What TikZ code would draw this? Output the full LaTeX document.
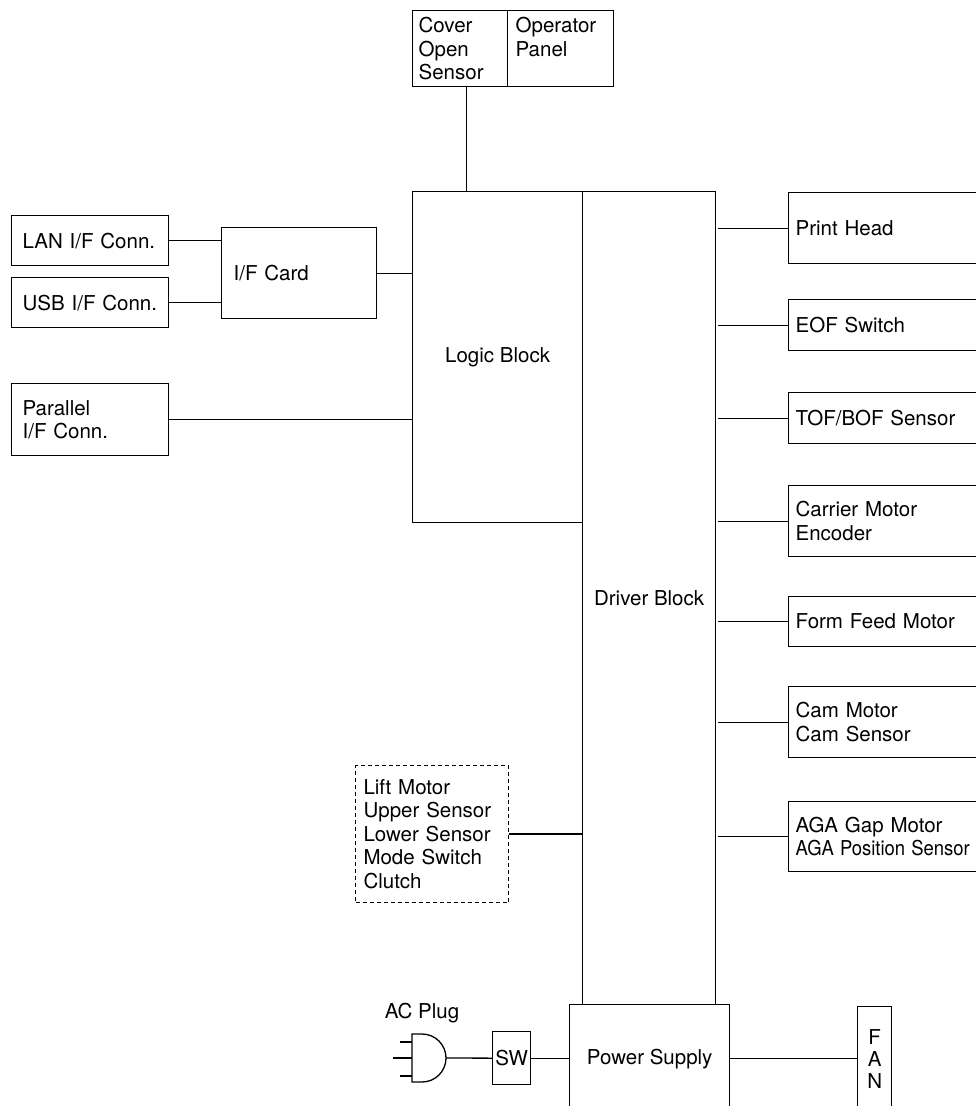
\documentclass[tikz,border=0pt]{standalone}
\usepackage{fontspec}
\setmainfont{TeX Gyre Heros}
\usepackage{tikz}
\usetikzlibrary{positioning}
\newcommand{\blkfont}{\fontsize{20.5}{23.5}\selectfont}

\begin{document}
\begin{tikzpicture}[x=1pt,y=-1pt,line width=1.3pt,
		every node/.style={font=\blkfont},
		block/.style={draw,anchor=north west,inner sep=0pt},
		unit/.style={draw,anchor=north west,align=left,inner ysep=0pt},
		conn/.style={unit,inner xsep=11pt,text width=135pt},
		part/.style={unit,inner xsep=7pt,text width=198pt},
		]
		
		\useasboundingbox (0,0) rectangle (976,1106);
		\clip (0,0) rectangle (976,1106);
		
		% Top panel
		\node[unit,inner xsep=6pt,text width=83pt,minimum height=76pt] (cover) at (412,10) {Cover\\Open\\Sensor};
		\node[unit,inner xsep=8pt,text width=90pt,minimum height=76pt] (panel) at (507,10) {Operator\\Panel\\\phantom{S}};
		
		% Main blocks
		\node[block,minimum width=170pt,minimum height=331pt] (logic) at (412,191) {Logic Block};
		\node[block,minimum width=133pt,minimum height=813pt] (drv) at (582,191) {Driver Block};
		\node[block,minimum width=160pt,minimum height=108pt] (ps) at (569,1004) {Power Supply};
		\node[block,minimum width=34pt,minimum height=104pt,align=center,
		font=\fontsize{20.5}{22}\selectfont] (fan) at (857,1006) {F\\A\\N};
		\node[block,minimum width=38pt,minimum height=53pt] (sw) at (492,1031) {SW};
		
		% Interfaces
		\node[conn,minimum height=50pt] (lan) at (11,215) {LAN I/F Conn.};
		\node[conn,minimum height=50pt] (usb) at (11,277) {USB I/F Conn.};
		\node[conn,minimum height=72pt] (par) at (11,383) {Parallel\\I/F Conn.};
		\node[unit,inner xsep=12pt,text width=131pt,minimum height=91pt] (card) at (221,227) {I/F Card};
		
		% Driven parts
		\node[part,minimum height=71pt] (head) at (788,192) {Print Head};
		\node[part,minimum height=51pt] (eof) at (788,299) {EOF Switch};
		\node[part,minimum height=51pt] (tof) at (788,392) {TOF/BOF Sensor};
		\node[part,minimum height=71pt] (carrier) at (788,485) {Carrier Motor\\Encoder};
		\node[part,minimum height=50pt] (ffeed) at (788,596) {Form Feed Motor};
		\node[part,minimum height=71pt] (cam) at (788,686) {Cam Motor\\Cam Sensor};
		\node[part,minimum height=70pt] (aga) at (788,801) {AGA Gap Motor\\\scalebox{0.9}[1]{AGA Position Sensor}};
		
		\node[unit,dashed,dash pattern=on 4pt off 3pt,line width=1pt,inner xsep=8pt,text width=137pt,minimum height=137pt] (lift) at (355,765)
		{Lift Motor\\Upper Sensor\\Lower Sensor\\Mode Switch\\Clutch};
		
		% AC plug
		\node (acplug) at (422,1013) {AC Plug};
		\draw (412,1034) -- (422,1034) arc[start angle=90,end angle=-90,radius=24pt] -- (412,1082) -- cycle;
		\draw (400,1042) -- (412,1042);
		\draw (393,1058) -- (412,1058);
		\draw (400,1076) -- (412,1076);
		\coordinate (plug) at (446,1058);
		
		% Connections
		\draw ([xshift=6pt]cover.south) -- ([xshift=6pt]cover.south |- logic.north);
		\draw (lan.east) -- (lan.east -| card.west);
		\draw (usb.east) -- (usb.east -| card.west);
		\draw (card.east) -- (card.east -| logic.west);
		\draw (par.east) -- (par.east -| logic.west);
		\draw (lift.east) -- (lift.east -| drv.west);
		
		\draw[shorten <=2pt] (head.west -| drv.east) -- (head.west);
		\draw[shorten <=2pt] (eof.west -| drv.east) -- (eof.west);
		\draw[shorten <=2pt] (tof.west -| drv.east) -- (tof.west);
		\draw[shorten <=2pt] (carrier.west -| drv.east) -- (carrier.west);
		\draw[shorten <=2pt] (ffeed.west -| drv.east) -- (ffeed.west);
		\draw[shorten <=2pt] (cam.west -| drv.east) -- (cam.west);
		\draw[shorten <=2pt] (aga.west -| drv.east) -- (aga.west);
		
		\draw (plug) -- (sw.west);
		\draw (sw.east) -- (sw.east -| ps.west);
		\draw (ps.east) -- (ps.east -| fan.west);
		
	\end{tikzpicture}
\end{document}
